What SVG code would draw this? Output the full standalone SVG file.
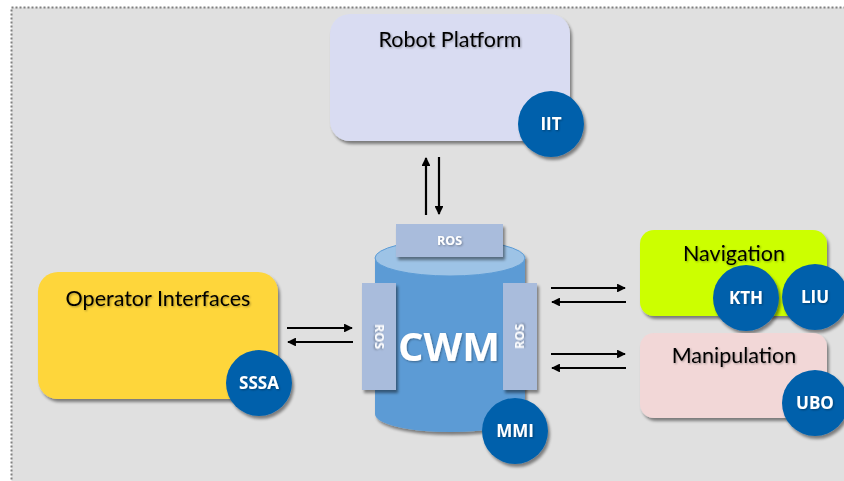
<svg xmlns="http://www.w3.org/2000/svg" width="844" height="481" viewBox="0 0 844 481">
<defs>
<style>
.lbl{font-family:Lato,"Open Sans","Liberation Sans",sans-serif;font-size:21.5px;fill:#000;text-anchor:middle}
.badge{fill:#0061ab}
.btxt{font-family:"Open Sans","Liberation Sans",sans-serif;font-weight:bold;font-size:17px;fill:#fff;text-anchor:middle}
.ros{fill:#a9bcdc}
.rtxt{font-family:"Open Sans","Liberation Sans",sans-serif;font-weight:bold;font-size:12.5px;fill:#fff;text-anchor:middle}
.arr{stroke:#000;stroke-width:2.2;fill:none;marker-end:url(#ah)}
</style>
<marker id="ah" viewBox="0 0 10 10" refX="9" refY="5" markerWidth="4" markerHeight="4" orient="auto" markerUnits="strokeWidth">
<path d="M0,0 L10,5 L0,10 z" fill="#000"/>
</marker>
<filter id="sh" x="-20%" y="-20%" width="150%" height="150%">
<feGaussianBlur in="SourceAlpha" stdDeviation="1.5"/>
<feOffset dx="2" dy="2.5" result="b"/>
<feComponentTransfer><feFuncA type="linear" slope="0.45"/></feComponentTransfer>
<feMerge><feMergeNode/><feMergeNode in="SourceGraphic"/></feMerge>
</filter>
<filter id="tsh" x="-10%" y="-20%" width="130%" height="150%">
<feGaussianBlur in="SourceAlpha" stdDeviation="0.8"/>
<feOffset dx="1" dy="1.2"/>
<feComponentTransfer><feFuncA type="linear" slope="0.35"/></feComponentTransfer>
<feMerge><feMergeNode/><feMergeNode in="SourceGraphic"/></feMerge>
</filter>
</defs>
<rect width="844" height="481" fill="#fff"/>
<rect x="11.5" y="7.5" width="840" height="480" fill="#e0e0e0" stroke="#808080" stroke-width="2" stroke-dasharray="2,2"/>

<g id="connectors">
<line class="arr" x1="426" y1="215" x2="426" y2="158"/>
<line class="arr" x1="439" y1="157" x2="439" y2="214"/>
<line class="arr" x1="287" y1="328" x2="352" y2="328"/>
<line class="arr" x1="353" y1="342" x2="288" y2="342"/>
<line class="arr" x1="551" y1="288" x2="625" y2="288"/>
<line class="arr" x1="626" y1="302" x2="552" y2="302"/>
<line class="arr" x1="551" y1="354" x2="625" y2="354"/>
<line class="arr" x1="626" y1="368" x2="552" y2="368"/>
</g>

<g id="robot-platform">
<rect x="330" y="14" width="240" height="127" rx="20" fill="#d9dcf2" filter="url(#sh)"/>
<text class="lbl" x="450" y="47" filter="url(#tsh)">Robot Platform</text>
<g filter="url(#sh)"><circle class="badge" cx="551" cy="124" r="33"/></g>
<text class="btxt" x="551" y="130" filter="url(#tsh)">IIT</text>
</g>

<g id="cwm">
<g filter="url(#sh)">
<path d="M375,258 L375,414 A75,18 0 0 0 525,414 L525,258 z" fill="#5b9bd5"/>
<ellipse cx="450" cy="258" rx="75" ry="18" fill="#9dc3e6" stroke="#5b9bd5" stroke-width="1"/>
</g>
<g filter="url(#sh)">
<rect class="ros" x="396" y="224" width="107" height="33"/>
<rect class="ros" x="362" y="283" width="34" height="107"/>
<rect class="ros" x="503" y="283" width="34" height="107"/>
</g>
<text class="rtxt" x="449.5" y="245" filter="url(#tsh)">ROS</text>
<text class="rtxt" transform="translate(375,336.5) rotate(90)" filter="url(#tsh)">ROS</text>
<text class="rtxt" transform="translate(524,336.5) rotate(-90)" filter="url(#tsh)">ROS</text>
<text x="449" y="361" font-family="'Open Sans','Liberation Sans',sans-serif" font-weight="bold" font-size="40" fill="#fff" text-anchor="middle" filter="url(#tsh)">CWM</text>
<g filter="url(#sh)"><circle class="badge" cx="515" cy="431" r="33"/></g>
<text class="btxt" x="515" y="437" filter="url(#tsh)">MMI</text>
</g>

<g id="operator-interfaces">
<rect x="38" y="272" width="240" height="127" rx="20" fill="#fed63a" filter="url(#sh)"/>
<text class="lbl" x="158" y="306" filter="url(#tsh)">Operator Interfaces</text>
<g filter="url(#sh)"><circle class="badge" cx="259" cy="383" r="33"/></g>
<text class="btxt" x="259" y="389" filter="url(#tsh)">SSSA</text>
</g>

<g id="navigation">
<rect x="640" y="230" width="187" height="86" rx="14" fill="#ccff00" filter="url(#sh)"/>
<text class="lbl" x="734" y="261" filter="url(#tsh)">Navigation</text>
<g filter="url(#sh)"><circle class="badge" cx="746" cy="298" r="33"/></g>
<text class="btxt" x="746" y="304" filter="url(#tsh)">KTH</text>
<g filter="url(#sh)"><circle class="badge" cx="815" cy="297" r="33"/></g>
<text class="btxt" x="815" y="303" filter="url(#tsh)">LIU</text>
</g>

<g id="manipulation">
<rect x="640" y="333" width="187" height="85" rx="14" fill="#f2d7d7" filter="url(#sh)"/>
<text class="lbl" x="734" y="363" filter="url(#tsh)">Manipulation</text>
<g filter="url(#sh)"><circle class="badge" cx="815" cy="403" r="33"/></g>
<text class="btxt" x="815" y="409" filter="url(#tsh)">UBO</text>
</g>
</svg>
